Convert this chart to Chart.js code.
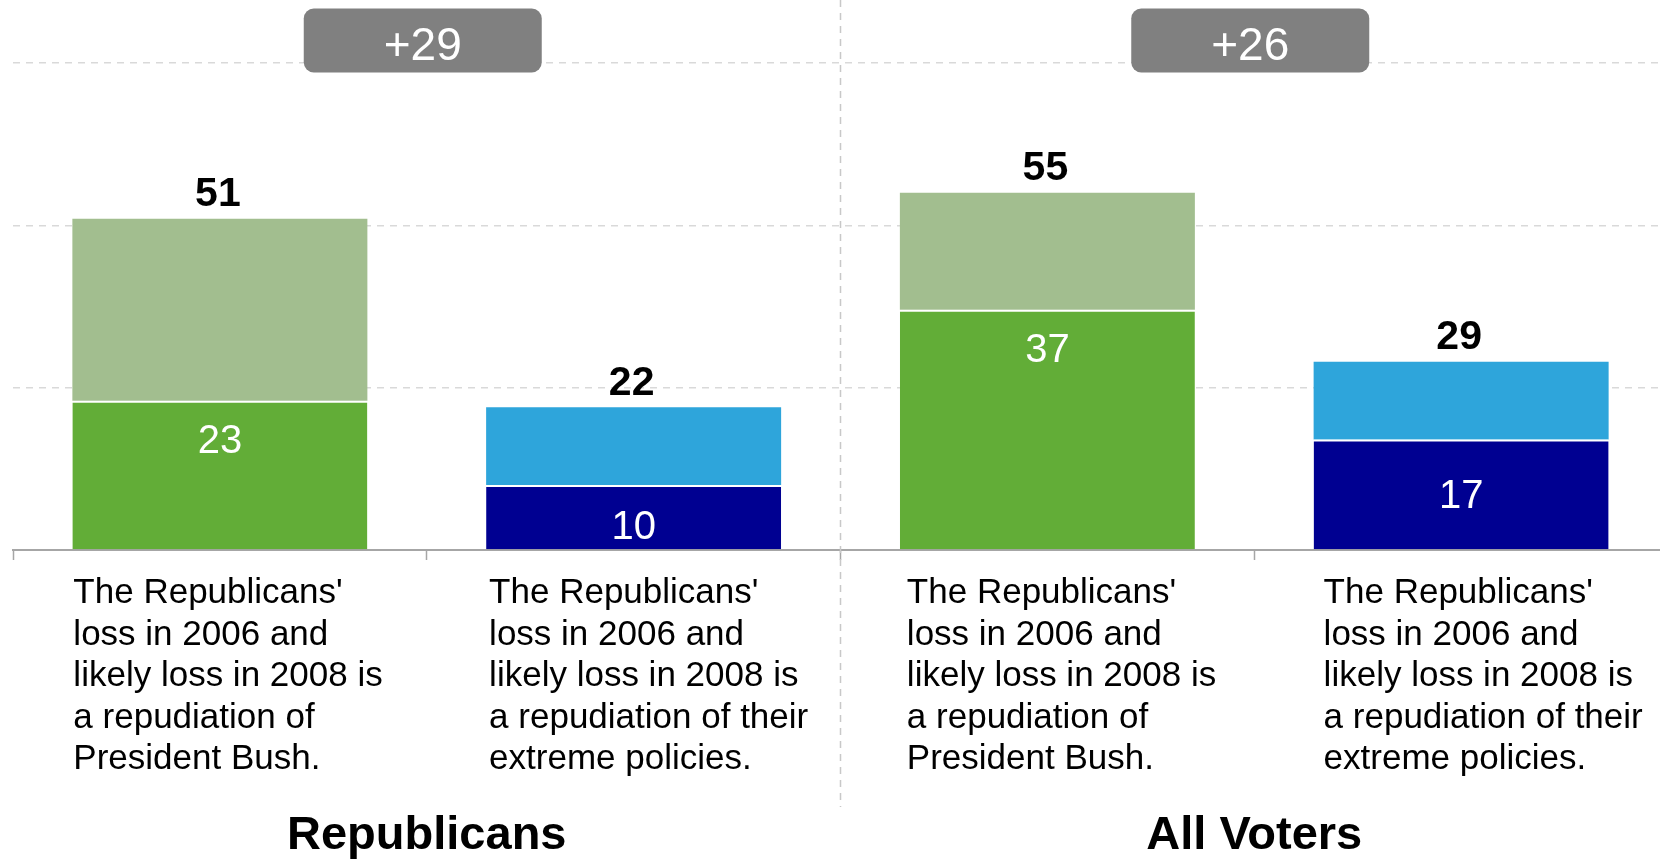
<!DOCTYPE html>
<html>
<head>
<meta charset="utf-8">
<script src="https://cdn.jsdelivr.net/npm/chart.js@4.4.0/dist/chart.umd.min.js"></script>
<style>
  html, body { margin: 0; padding: 0; overflow: hidden; background: #fff; }
  #wrap { width: 1668px; height: 860px; }
</style>
</head>
<body>
<div id="wrap"><canvas id="chart" width="1668" height="860"></canvas></div>
<script>
// data
const categories = [
  ["The Republicans'", "loss in 2006 and", "likely loss in 2008 is", "a repudiation of", "President Bush."],
  ["The Republicans'", "loss in 2006 and", "likely loss in 2008 is", "a repudiation of their", "extreme policies."],
  ["The Republicans'", "loss in 2006 and", "likely loss in 2008 is", "a repudiation of", "President Bush."],
  ["The Republicans'", "loss in 2006 and", "likely loss in 2008 is", "a repudiation of their", "extreme policies."]
];
const groups = ["Republicans", "All Voters"];
const strongValues = [23, 10, 37, 17];
const totals = [51, 22, 55, 29];
const gapLabels = ["+29", "+26"];

const FONT = '"Liberation Sans", Arial, sans-serif';
const darkColors = ["#62ad37", "#000091", "#62ad37", "#000091"];
const lightColors = ["#a2be8f", "#2ea5db", "#a2be8f", "#2ea5db"];

const annotate = {
  id: "annotate",
  beforeDatasetsDraw(chart) {
    // dashed divider between the two groups
    const x = chart.scales.x;
    const ctx = chart.ctx;
    const mid = (x.getPixelForValue(1) + x.getPixelForValue(2)) / 2;
    ctx.save();
    ctx.strokeStyle = "#c8c8c8";
    ctx.lineWidth = 1.5;
    ctx.setLineDash([7, 6]);
    ctx.beginPath();
    ctx.moveTo(mid, 0);
    ctx.lineTo(mid, chart.chartArea.bottom + 257);
    ctx.stroke();
    ctx.restore();
  },
  afterDatasetsDraw(chart, args, opts) {
    const ctx = chart.ctx;
    const x = chart.scales.x;
    const lower = chart.getDatasetMeta(0).data;
    const upper = chart.getDatasetMeta(1).data;
    const bottom = chart.chartArea.bottom;
    ctx.save();
    ctx.textAlign = "center";
    ctx.textBaseline = "alphabetic";

    lower.forEach((bar, i) => {
      // value inside the lower segment
      ctx.fillStyle = "#fff";
      ctx.font = "40px " + FONT;
      ctx.fillText(String(strongValues[i]), bar.x, bar.y + opts.innerDrop[i]);
      // total above the bar
      ctx.fillStyle = "#000";
      ctx.font = "bold 41px " + FONT;
      ctx.fillText(String(totals[i]), bar.x - 2, upper[i].y - 12.5);
    });

    // category text, left aligned near the bar
    ctx.textAlign = "left";
    ctx.font = "35px " + FONT;
    ctx.fillStyle = "#000";
    lower.forEach((bar, i) => {
      const left = bar.x - bar.width / 2 + opts.textShift[i];
      categories[i].forEach((line, k) => {
        ctx.fillText(line, left, bottom + 53 + k * 41.6);
      });
    });

    // group badges and titles
    ctx.textAlign = "center";
    groups.forEach((g, j) => {
      const cx = (x.getPixelForValue(2 * j) + x.getPixelForValue(2 * j + 1)) / 2;
      ctx.fillStyle = "#808080";
      ctx.beginPath();
      ctx.roundRect(cx - 4 - 119, 8.5, 238, 64, 10);
      ctx.fill();
      ctx.fillStyle = "#fff";
      ctx.font = "46px " + FONT;
      ctx.fillText(gapLabels[j], cx - 4, 59.5);

      ctx.fillStyle = "#000";
      ctx.font = "bold 47px " + FONT;
      ctx.fillText(g, cx, 849);
    });
    ctx.restore();
  }
};

new Chart(document.getElementById("chart"), {
  type: "bar",
  data: {
    labels: categories,
    datasets: [
      {
        data: strongValues,
        backgroundColor: darkColors,
        borderColor: "#fff",
        borderWidth: { top: 2, left: 0, right: 0, bottom: 0 },
        barPercentage: 0.713,
        categoryPercentage: 1
      },
      {
        data: totals.map((t, i) => t - strongValues[i]),
        backgroundColor: lightColors,
        borderWidth: 0,
        barPercentage: 0.713,
        categoryPercentage: 1
      }
    ]
  },
  options: {
    responsive: false,
    animation: false,
    devicePixelRatio: 1,
    layout: { padding: { left: 13, right: 0, top: 0, bottom: 300 } },
    plugins: {
      legend: { display: false },
      tooltip: { enabled: false },
      annotate: { innerDrop: [52, 54, 52, 68], textShift: [1, 3, 7, 10] }
    },
    scales: {
      x: {
        stacked: true,
        ticks: { display: false },
        grid: { drawOnChartArea: false, tickLength: 10, tickColor: "#a6a6a6", tickWidth: 1.5 },
        border: { color: "#a6a6a6", width: 2 }
      },
      y: {
        stacked: true,
        min: 0,
        max: 84.7,
        ticks: { display: false, stepSize: 25, includeBounds: false },
        grid: { drawTicks: false, color: "#d9d9d9", lineWidth: 1.5 },
        border: { display: false, dash: [7, 6] }
      }
    }
  },
  plugins: [annotate]
});
</script>
</body>
</html>
